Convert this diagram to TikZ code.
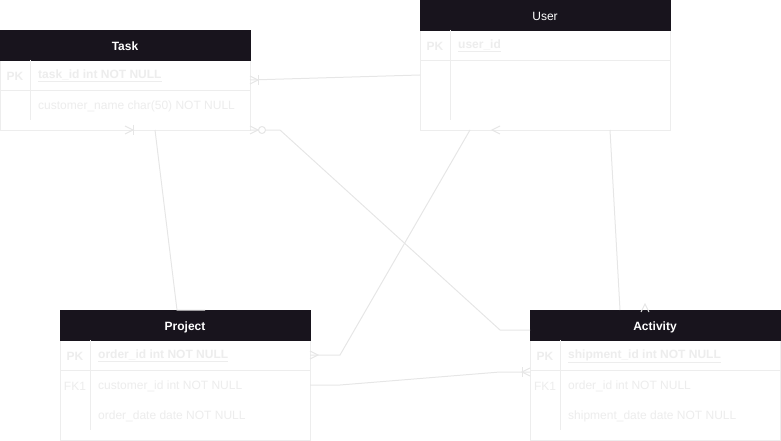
\documentclass[tikz,border=0pt]{standalone}
\usepackage{fontspec}
\setmainfont{Liberation Sans}
\definecolor{hdr}{HTML}{18141D}
\definecolor{edge}{HTML}{E6E6E6}
\definecolor{faint}{HTML}{EDEDED}
\begin{document}
\begin{tikzpicture}[x=1pt,y=-1pt,
	conn/.style={draw=edge, line width=1pt},
	hdrbox/.style={fill=hdr, draw=hdr, minimum width=250pt, minimum height=30pt, inner sep=0pt, text height=10.5pt, text depth=0pt, text=white, font=\fontsize{12}{14}\selectfont\bfseries},
	bodybox/.style={draw=faint, fill=white, minimum width=250pt, inner sep=0pt},
	keytxt/.style={text=faint, inner sep=0pt, yshift=-1pt, font=\fontsize{12}{14}\selectfont},
	fld/.style={text=faint, anchor=west, inner sep=0pt, yshift=-1pt, font=\fontsize{12}{14}\selectfont},
	crow/.pic={\draw[conn] (0,-4)--(8,0)--(0,4);},
	crowbar/.pic={\draw[conn] (0,-4)--(8,0)--(0,4); \draw[conn] (8,-5)--(8,5);},
	zeromany/.pic={\draw[conn] (0,-4)--(8,0)--(0,4); \draw[conn, fill=white] (12,0) circle (3.5);}]
		\useasboundingbox (0,0) rectangle (781,441);
		% Task
		\node[bodybox, minimum height=70pt] (taskbody) at (125,95) {};
		\node[hdrbox] (taskhead) at (125,45) {Task};
		\draw[faint] (0,90)--(250,90) (30,60)--(30,120);
		\node[keytxt, font=\fontsize{12}{14}\selectfont\bfseries] at (15,75) {PK};
		\node[fld, font=\fontsize{12}{14}\selectfont\bfseries] at (38,75) {\underline{task\_id int NOT NULL}};
		\node[fld] at (38,105) {customer\_name char(50) NOT NULL};
		% User
		\node[bodybox, minimum height=100pt] (userbody) at (545,80) {};
		\node[hdrbox, font=\fontsize{12}{14}\selectfont] (userhead) at (545,15) {User};
		\draw[faint] (420,60)--(670,60) (450,30)--(450,120);
		\node[keytxt, font=\fontsize{12}{14}\selectfont\bfseries] at (435,45) {PK};
		\node[fld, font=\fontsize{12}{14}\selectfont\bfseries] at (458,45) {\underline{user\_id}};
		% Project
		\node[bodybox, minimum height=100pt] (projbody) at (185,390) {};
		\node[hdrbox] (projhead) at (185,325) {Project};
		\draw[faint] (60,370)--(310,370) (90,340)--(90,430);
		\node[keytxt, font=\fontsize{12}{14}\selectfont\bfseries] at (75,355) {PK};
		\node[fld, font=\fontsize{12}{14}\selectfont\bfseries] at (98,355) {\underline{order\_id int NOT NULL}};
		\node[keytxt] at (75,385) {FK1};
		\node[fld] at (98,385) {customer\_id int NOT NULL};
		\node[fld] at (98,415) {order\_date date NOT NULL};
		% Activity
		\node[bodybox, minimum height=100pt] (actbody) at (655,390) {};
		\node[hdrbox] (acthead) at (655,325) {Activity};
		\draw[faint] (530,370)--(780,370) (560,340)--(560,430);
		\node[keytxt, font=\fontsize{12}{14}\selectfont\bfseries] at (545,355) {PK};
		\node[fld, font=\fontsize{12}{14}\selectfont\bfseries] at (568,355) {\underline{shipment\_id int NOT NULL}};
		\node[keytxt] at (545,385) {FK1};
		\node[fld] at (568,385) {order\_id int NOT NULL};
		\node[fld] at (568,415) {shipment\_date date NOT NULL};
		% connectors
		\coordinate (userL) at (420,75);
		\coordinate (taskR) at (250,80);
		\coordinate (taskC) at (250,130);
		\coordinate (taskB) at (155,130);
		\coordinate (actL) at (530,330);
		\coordinate (actF) at (530,372);
		\coordinate (actT) at (620,310);
		\coordinate (projT) at (177,310);
		\coordinate (projK) at (310,355);
		\coordinate (projF) at (310,385);
		\coordinate (userB) at (470,130);
		\coordinate (userC) at (610,130);
		\draw[conn] (userL) -- (taskR);
		\draw[conn] (taskC) -- ++(30,0) -- (500,330) -- (actL);
		\draw[conn] (taskB) -- (projT) -- ++(28,0);
		\draw[conn] (userB) -- (340,355) -- (projK);
		\draw[conn] (userC) -- (actT);
		\draw[conn] (projF) -- ++(30,0) -- (500,372) -- (actF);
		\pic at (taskR) {crowbar};
		\pic at (taskC) {zeromany};
		\pic at (125,130) {crowbar};
		\pic at (projK) {crow};
		\pic[rotate=180] at (actF) {crowbar};
		\pic[rotate=180] at (500,130) {crow};
		\pic[rotate=90] at (645,312) {crow};
	\end{tikzpicture}
\end{document}
